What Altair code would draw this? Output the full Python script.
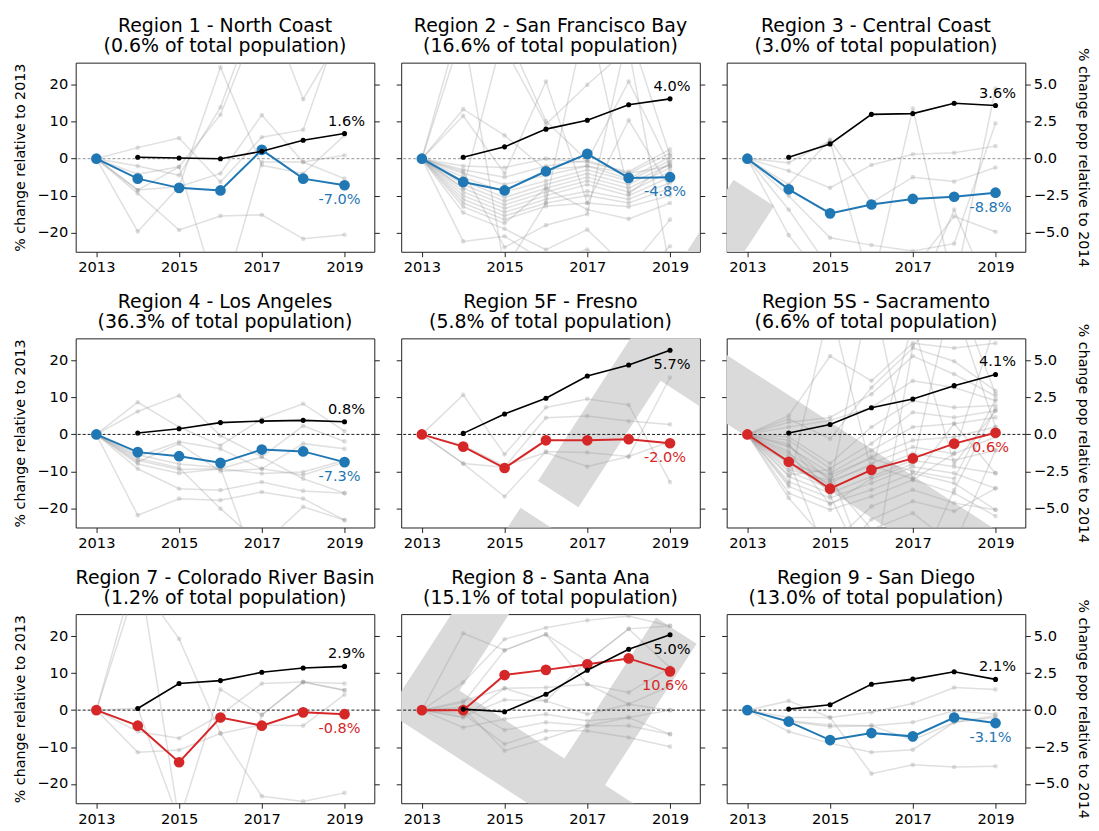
import math
import altair as alt
import pandas as pd

# ---------------- data ----------------
YEARS = [2013, 2014, 2015, 2016, 2017, 2018, 2019]
POP_YEARS = [2014, 2015, 2016, 2017, 2018, 2019]
YEAR_TICKS = [2013, 2015, 2017, 2019]
LEFT_TICKS = [-20, -10, 0, 10, 20]
RIGHT_TICKS = [-5.0, -2.5, 0.0, 2.5, 5.0]

REGION_TITLES = [
    "Region 1 - North Coast", "Region 2 - San Francisco Bay", "Region 3 - Central Coast",
    "Region 4 - Los Angeles", "Region 5F - Fresno", "Region 5S - Sacramento",
    "Region 7 - Colorado River Basin", "Region 8 - Santa Ana", "Region 9 - San Diego",
]
POP_SHARES = [
    "(0.6% of total population)", "(16.6% of total population)", "(3.0% of total population)",
    "(36.3% of total population)", "(5.8% of total population)", "(6.6% of total population)",
    "(1.2% of total population)", "(15.1% of total population)", "(13.0% of total population)",
]
MAIN_LABELS = ["-7.0%", "-4.8%", "-8.8%", "-7.3%", "-2.0%", "0.6%", "-0.8%", "10.6%", "-3.1%"]
POP_LABELS = ["1.6%", "4.0%", "3.6%", "0.8%", "5.7%", "4.1%", "2.9%", "5.0%", "2.1%"]

# % change relative to 2013 (regional aggregate)
R1_MAIN = [0, -5.4, -7.9, -8.6, 2.4, -5.4, -7.2]
R2_MAIN = [0, -6.3, -8.6, -3.4, 1.3, -5.2, -5.0]
R3_MAIN = [0, -8.3, -14.8, -12.4, -10.9, -10.3, -9.2]
R4_MAIN = [0, -4.8, -5.9, -7.7, -4.1, -4.6, -7.5]
R5F_MAIN = [0, -3.3, -9.1, -1.6, -1.6, -1.3, -2.4]
R5S_MAIN = [0, -7.4, -14.7, -9.6, -6.5, -2.5, 0.45]
R7_MAIN = [0, -4.2, -14.1, -2.0, -4.2, -0.6, -1.1]
R8_MAIN = [0, 0.0, 9.5, 10.9, 12.4, 14.0, 10.5]
R9_MAIN = [0, -3.1, -8.1, -6.2, -7.1, -2.0, -3.5]

# % change pop relative to 2014 (right axis)
R1_POP = [0.1, 0.05, 0.0, 0.5, 1.25, 1.7]
R2_POP = [0.1, 0.8, 2.0, 2.6, 3.65, 4.05]
R3_POP = [0.1, 1.0, 3.0, 3.05, 3.75, 3.6]
R4_POP = [0.1, 0.38, 0.8, 0.9, 0.95, 0.86]
R5F_POP = [0.07, 1.38, 2.45, 3.95, 4.7, 5.7]
R5S_POP = [0.09, 0.67, 1.8, 2.4, 3.3, 4.06]
R7_POP = [0.11, 1.8, 2.0, 2.56, 2.85, 2.96]
R8_POP = [0.07, -0.11, 1.08, 2.7, 4.12, 5.1]
R9_POP = [0.07, 0.36, 1.75, 2.1, 2.6, 2.08]

# individual suppliers (grey)
R1_GREY = [
    [0, 3.0, 5.6, -6.3, 5.8, 7.8, 40],
    [0, -2.0, -4.5, 13.9, 45, 16.1, 35],
    [0, -4.2, -2.2, 11.9, 40, 50, 30],
    [0, -8.5, -7.6, -4.0, 11.8, -0.9, -5.4],
    [0, -9.4, -19.3, -15.5, -15.2, -21.7, -20.6],
    [0, -19.7, -7.6, 24.7, -1.8, -4.0, 6.3],
    [0, -8.5, -2.2, -40, -0.9, -0.9, 0.9],
]
R2_GREY = [
    [0, 13.4, 6.3, -3.0, -2.0, -4.0, -2.0],
    [0, 11.6, -4.0, 20.9, -12.0, 10.4, -8.0],
    [0, -2.0, -2.4, 0.0, -1.0, -3.5, 2.5],
    [0, -3.0, -5.0, -2.0, -0.5, -4.0, 1.5],
    [0, -4.0, -7.0, -4.5, -2.0, -5.5, 0.5],
    [0, -5.0, -9.0, -6.0, -3.0, -6.0, -0.5],
    [0, -6.0, -10.5, -7.0, -4.0, -7.0, -1.5],
    [0, -7.0, -11.5, -8.0, -5.0, -8.0, -2.5],
    [0, -8.0, -12.5, -9.0, -6.0, -9.0, -3.5],
    [0, -9.0, -13.5, -10.0, -7.0, -10.0, -5.0],
    [0, -10.0, -14.5, -11.0, -8.8, -11.0, -6.5],
    [0, -11.0, -15.5, -12.0, -10.0, -12.0, -8.0],
    [0, -12.0, -16.5, -12.9, -12.0, -13.0, -10.0],
    [0, -13.0, -17.5, -8.0, -13.8, -16.3, -12.0],
    [0, -14.6, -19.0, -24.6, -19.2, -30, -16.5],
    [0, -22.4, -21.0, -28, -24.6, -35, -23.7],
    [0, 40, 30, 9.3, 20.0, 30, -30],
    [0, -8.0, 35, 10.2, -0.5, 20.9, -2.0],
    [0, -3.5, -24.0, -18.0, -15, 35, 0.8],
    [0, 35, -30, -12, 40, -9.5, -1.0],
]
R3_GREY = [
    [0, -1.1, 4.8, -35, 13.6, -35, 19.0],
    [0, -3.3, -7.9, -1.7, 1.2, 1.6, 3.4],
    [0, -7.0, 5.2, -11.9, -5.0, -6.2, -2.4],
    [0, -10.1, -21.4, -23.4, -25.0, -23.0, 9.6],
    [0, -13.8, -30, -40, -30, -15.6, -19.8],
    [0, -20.7, -35, -40, -40, -13.8, -40],
]
R4_GREY = [
    [0, 8.7, 2.0, -3.0, 4.2, 8.3, 0.9],
    [0, 6.2, 10.5, -0.3, -6.1, 2.3, -1.9],
    [0, -6.0, -2.0, -3.9, -9.3, -2.5, -3.9],
    [0, -7.0, -9.5, -9.3, -10.6, -10.2, -7.0],
    [0, -8.0, -10.5, -9.3, -6.1, -12.0, -15.9],
    [0, -9.3, -14.7, -15.1, -12.9, -15.3, -15.9],
    [0, -21.9, -17.4, -17.8, -15.6, -17.4, -23.2],
    [0, -6.5, -9.0, -20.1, -30, -19.6, -23.2],
    [0, -5.5, -8.0, -9.0, -40, -35, -30],
    [0, -7.5, -2.5, -10.0, -9.3, -11.0, -7.5],
]
R5F_GREY = [
    [0, 10.7, -5.4, 7.3, 9.6, 8.0, -12.9],
    [0, -7.9, -8.9, 4.5, 5.0, 3.6, 2.7],
    [0, -7.9, -16.8, -4.6, -4.9, -6.0, 15.4],
    [0, -3.0, -8.5, -4.9, -8.7, -6.0, -2.0],
]
R5S_GREY = [
    [0, 5.1, 21.2, 14.5, 24.7, 23.4, 24.7],
    [0, 4.2, -1.2, 12.7, 23.4, 19.8, 11.8],
    [0, 3.3, 4.6, 10.9, 21.2, 16.3, 10.4],
    [0, 2.0, 3.8, 7.3, 14.5, 12.7, 9.1],
    [0, -0.7, -7.9, 2.0, 9.1, 7.3, 7.8],
    [0, -1.6, -9.2, -2.5, 6.0, 4.6, 6.4],
    [0, -3.4, -10.5, -4.3, 2.0, 2.9, 4.6],
    [0, -5.2, -11.9, -6.1, -1.6, -0.7, 2.0],
    [0, -8.75, -13.2, -7.9, -3.4, -5.2, -0.7],
    [0, -10.1, -14.6, -9.6, -5.2, -7.0, -4.3],
    [0, -11.4, -15.9, -11.4, -7.0, -8.75, -10.5],
    [0, -12.8, -17.2, -13.2, -8.75, -10.5, -14.6],
    [0, -14.1, -18.6, -15.0, -10.5, -13.2, -20.4],
    [0, -15.9, -20.4, -16.8, -12.3, -15.9, -22.1],
    [0, -17.2, -30, -19.5, -15.0, -18.6, -20.4],
    [0, -7.0, -35, -23.0, -18.1, -20.8, -14.6],
    [0, -9.5, -12.5, -25.7, -21.3, -30, -4.3],
    [0, -6.0, -14.0, 40, -12.3, -5.2, 30],
    [0, -13.5, 35, -10.0, 30, -8.0, 6.4],
    [0, -2.5, -16.5, -40, 24.0, 35, 2.0],
    [0, -4.5, -19.0, -12.0, -8.0, 40, 11.0],
    [0, -11.0, -9.5, -40, -40, -15.0, 7.0],
    [0, -8.0, -11.0, -6.5, -10.0, -12.0, 9.5],
    [0, -3.0, -12.5, -8.5, -12.0, 2.9, -10.5],
]
R7_GREY = [
    [0, 40, -30, 5.6, -1.3, 7.6, 5.4],
    [0, 35, 19.3, -6.3, -23.3, -24.7, -22.4],
    [0, -5.8, -7.6, -1.3, 7.2, 7.6, 7.2],
    [0, -11.4, -10.8, -6.3, -4.0, -4.2, 4.2],
    [0, 0.5, -30, -40, -1.3, 7.6, 5.4],
]
R8_GREY = [
    [0, 20.8, 16.2, 20.5, 13.3, 22.0, 22.8],
    [0, 7.5, 19.2, 22.3, 24.3, 25.5, 22.8],
    [0, 2.5, 5.9, 6.1, 7.0, 4.8, 11.5],
    [0, -1.8, 2.8, 2.5, -1.1, 1.6, 6.6],
    [0, -4.7, -2.4, -1.1, -2.9, -2.0, 0.0],
    [0, 1.0, -5.4, -3.3, -4.2, -4.2, -6.5],
    [0, -1.0, -9.2, -5.6, -5.6, -7.4, -9.9],
    [0, 0.5, -11.0, -7.7, -4.2, -2.0, -6.5],
    [0, 2.0, 16.2, 20.5, 7.0, 1.6, 0.0],
    [0, -2.0, 5.9, 2.5, 13.3, 22.0, 11.5],
]
R9_GREY = [
    [0, 2.5, -2.0, -0.6, 1.8, 6.1, 5.6],
    [0, -2.9, -4.0, -4.2, -3.3, -0.2, -1.1],
    [0, -5.8, -9.0, -11.4, -10.7, -3.3, -2.0],
    [0, -2.0, -2.0, -17.2, -14.8, -15.4, -15.2],
    [0, -3.0, -4.5, -4.2, -8.1, -3.3, -1.5],
]

REGIONS = [
    (R1_MAIN, R1_POP, R1_GREY), (R2_MAIN, R2_POP, R2_GREY), (R3_MAIN, R3_POP, R3_GREY),
    (R4_MAIN, R4_POP, R4_GREY), (R5F_MAIN, R5F_POP, R5F_GREY), (R5S_MAIN, R5S_POP, R5S_GREY),
    (R7_MAIN, R7_POP, R7_GREY), (R8_MAIN, R8_POP, R8_GREY), (R9_MAIN, R9_POP, R9_GREY),
]

# ---------------- style ----------------
FONT = "DejaVu Sans"
BLUE = "#1f77b4"
RED = "#d62728"
PANEL_W = 300
PANEL_H = 190
COL_GAP = 27
ROW_GAP = 87
TICK_FS = 14.7
AXTITLE_FS = 14.3
LABEL_FS = 14.6
TITLE_FS = 19

# watermark geometry, in pixels relative to the first panel's plot origin
WM_TEXT = "DRAFT"
WM_ADV = [0.770, 0.695, 0.684, 0.575, 0.611]
WM_EM = 585
WM_ROT = -57
WM_T_ANCHOR = (823, 651)
WM_COLOR = "#dadada"


def wm_anchors():
    ang = math.radians(WM_ROT)
    rx, ry = math.cos(ang), math.sin(ang)
    anchors = [None] * len(WM_TEXT)
    ax, ay = WM_T_ANCHOR
    anchors[-1] = (ax, ay)
    for k in range(len(WM_TEXT) - 2, -1, -1):
        d = WM_ADV[k] * WM_EM
        ax, ay = ax - d * rx, ay - d * ry
        anchors[k] = (ax, ay)
    return anchors


def watermark_layers(ox, oy):
    layers = []
    for ch, (px, py) in zip(WM_TEXT, wm_anchors()):
        layers.append(
            alt.Chart(pd.DataFrame({"t": [ch]}))
            .mark_text(text=ch, font=FONT, fontSize=WM_EM, align="left", baseline="alphabetic",
                       angle=(360 + WM_ROT) % 360, color=WM_COLOR, clip=True)
            .encode(x=alt.value(px - ox), y=alt.value(py - oy))
        )
    return layers


def x_enc():
    return alt.X(
        "year:Q",
        scale=alt.Scale(domain=[2012.5, 2019.72], nice=False, zero=False),
        axis=alt.Axis(values=YEAR_TICKS, format="d", title=None, grid=False, domain=False,
                      tickSize=5, tickColor="#222", labelFontSize=TICK_FS, labelPadding=3,
                      labelColor="black", labelFont=FONT, labelFlush=False),
    )


def y_left(col):
    kw = dict(orient="left", values=LEFT_TICKS, grid=False, domain=False, tickSize=5,
              tickColor="#222", labels=(col == 0), labelFontSize=TICK_FS, labelPadding=3,
              labelColor="black", labelFont=FONT)
    if col == 0:
        kw.update(title="% change relative to 2013", titleFontSize=AXTITLE_FS, titleFont=FONT,
                  titleFontWeight="normal", titleColor="black", titlePadding=9)
    else:
        kw.update(title=None)
    return alt.Y("value:Q", scale=alt.Scale(domain=[-25.2, 26], nice=False, zero=False),
                 axis=alt.Axis(**kw))


def y_right(col):
    kw = dict(orient="right", values=RIGHT_TICKS, format=".1f", grid=False, domain=False,
              tickSize=5, tickColor="#222", labels=(col == 2), labelFontSize=TICK_FS,
              labelPadding=3, labelColor="black", labelFont=FONT)
    if col == 2:
        kw.update(title="% change pop relative to 2014", titleFontSize=AXTITLE_FS, titleFont=FONT,
                  titleFontWeight="normal", titleColor="black", titlePadding=7)
    else:
        kw.update(title=None)
    return alt.Y("value:Q", scale=alt.Scale(domain=[-6.3, 6.5], nice=False, zero=False),
                 axis=alt.Axis(**kw))


def panel(i):
    col = i % 3
    row = i // 3
    main, pop, grey = REGIONS[i]
    color = BLUE if main[-1] <= -3 else RED

    grey_df = pd.DataFrame(
        [{"id": g, "year": y, "value": v} for g, line in enumerate(grey) for y, v in zip(YEARS, line)]
    )
    main_df = pd.DataFrame({"year": YEARS, "value": main})
    pop_df = pd.DataFrame({"year": POP_YEARS, "value": pop})
    main_lab = pd.DataFrame({"year": [YEARS[-1]], "value": [main[-1]], "t": [MAIN_LABELS[i]]})
    pop_lab = pd.DataFrame({"year": [POP_YEARS[-1]], "value": [pop[-1]], "t": [POP_LABELS[i]]})

    X = x_enc()
    YL = y_left(col)
    YR = y_right(col)

    wm = watermark_layers(col * (PANEL_W + COL_GAP), row * (PANEL_H + ROW_GAP))
    t1 = alt.Chart(pd.DataFrame({"t": [REGION_TITLES[i]]})).mark_text(
        font=FONT, fontSize=TITLE_FS, color="black", align="center", baseline="alphabetic"
    ).encode(x=alt.value(PANEL_W / 2), y=alt.value(-30.5), text="t:N")
    t2 = alt.Chart(pd.DataFrame({"t": [POP_SHARES[i]]})).mark_text(
        font=FONT, fontSize=TITLE_FS, color="black", align="center", baseline="alphabetic"
    ).encode(x=alt.value(PANEL_W / 2), y=alt.value(-10.5), text="t:N")

    grey_line = alt.Chart(grey_df).mark_line(color="#999999", opacity=0.3, strokeWidth=1.5, clip=True).encode(
        x=X, y=YL, detail="id:N")
    grey_pts = alt.Chart(grey_df).mark_circle(color="#999999", opacity=0.3, size=22, clip=True).encode(
        x=X, y=YL)
    zero = alt.Chart(pd.DataFrame({"value": [0]})).mark_rule(
        color="#888888" if row == 0 else "black", strokeDash=[3, 2], strokeWidth=0.9).encode(y=YL)
    m_line = alt.Chart(main_df).mark_line(color=color, strokeWidth=2).encode(x=X, y=YL)
    m_pts = alt.Chart(main_df).mark_circle(color=color, size=115, opacity=1).encode(x=X, y=YL)
    m_txt = alt.Chart(main_lab).mark_text(color=color, font=FONT, fontSize=LABEL_FS, align="center",
                                          baseline="top", dx=-5, dy=7).encode(x=X, y=YL, text="t:N")
    left = alt.layer(*wm, t1, t2, grey_line, grey_pts, zero, m_line, m_pts, m_txt)

    high = pop[-1] >= 4.5
    p_line = alt.Chart(pop_df).mark_line(color="black", strokeWidth=1.6).encode(x=X, y=YR)
    p_pts = alt.Chart(pop_df).mark_circle(color="black", size=26, opacity=1).encode(x=X, y=YR)
    p_txt = alt.Chart(pop_lab).mark_text(color="black", font=FONT, fontSize=LABEL_FS, align="center",
                                         baseline="top" if high else "bottom",
                                         dx=2, dy=7 if high else -5).encode(x=X, y=YR, text="t:N")
    right = alt.layer(p_line, p_pts, p_txt)

    return alt.layer(left, right).resolve_scale(y="independent").properties(
        width=PANEL_W, height=PANEL_H,
        view=alt.ViewBackground(stroke="#222", strokeWidth=1),
    )


chart = alt.concat(
    *[panel(i) for i in range(9)],
    columns=3,
    spacing={"row": ROW_GAP, "column": COL_GAP},
    bounds="flush",
    padding={"left": 5, "top": 7, "right": 0, "bottom": 0},
).configure(font=FONT).configure_view(stroke="#222", strokeWidth=1)

chart.save("out.html", embed_options={"renderer": "svg", "actions": False})
